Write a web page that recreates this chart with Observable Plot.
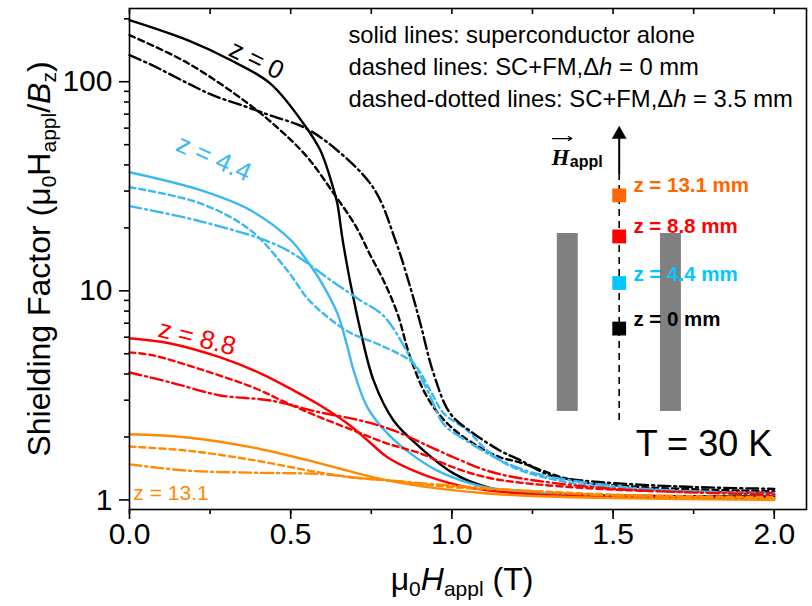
<!DOCTYPE html>
<html><head><meta charset="utf-8">
<script src="https://cdn.jsdelivr.net/npm/d3@7"></script>
<script src="https://cdn.jsdelivr.net/npm/@observablehq/plot@0.6"></script>
<style>
body{margin:0;background:#fff;}
#chart{width:812px;height:606px;}
</style></head><body><div id="chart"></div>
<script>
// ---- data (x: mu0 H_appl in T, y: shielding factor) ----
const z0Solid   = [[0,197],[0.18,158],[0.313,127],[0.437,98],[0.54,63],[0.592,47],[0.632,31],[0.645,26],[0.66,18],[0.675,13.2],[0.69,10],[0.716,6.5],[0.757,3.73],[0.819,2.4],[0.902,1.78],[1.005,1.34],[1.11,1.15],[1.212,1.085],[1.5,1.05],[2.0,1.04]];
const z0Dash    = [[0,167],[0.18,123],[0.366,79],[0.468,58.6],[0.552,43.5],[0.633,29.3],[0.70,20.6],[0.747,14.8],[0.788,11.2],[0.831,7.8],[0.871,4.8],[0.924,3.09],[0.986,2.32],[1.067,1.86],[1.15,1.6],[1.212,1.51],[1.377,1.24],[1.6,1.15],[2.0,1.1]];
const z0DashDot = [[0,134],[0.07,120],[0.18,98.4],[0.26,86],[0.366,75.5],[0.437,69],[0.54,60.6],[0.633,48.6],[0.757,31],[0.825,17.4],[0.871,10.4],[0.902,7.0],[0.943,4.03],[0.995,2.59],[1.067,2.08],[1.15,1.72],[1.212,1.55],[1.305,1.31],[1.40,1.24],[1.7,1.16],[2.0,1.13]];
const z44Solid   = [[0,36.9],[0.22,30.3],[0.375,24.3],[0.5,17.5],[0.561,13.2],[0.592,11.2],[0.645,7.8],[0.676,5.4],[0.695,4.17],[0.738,2.77],[0.8,2.08],[0.871,1.67],[0.955,1.38],[1.057,1.2],[1.16,1.11],[1.212,1.085],[1.5,1.03],[2.0,1.02]];
const z44Dash    = [[0,31.3],[0.22,26.2],[0.375,19.5],[0.49,12.5],[0.552,9.2],[0.614,7.5],[0.685,6.3],[0.778,5.5],[0.88,4.5],[0.933,3.34],[0.974,2.6],[1.048,2.15],[1.11,1.72],[1.19,1.43],[1.377,1.2],[1.6,1.12],[2.0,1.08]];
const z44DashDot = [[0,25.4],[0.22,21.5],[0.47,16.2],[0.633,11.0],[0.716,9.0],[0.788,7.6],[0.871,4.8],[0.93,3.2],[0.975,2.3],[1.05,1.9],[1.15,1.55],[1.25,1.35],[1.4,1.22],[1.6,1.13],[2.0,1.06]];
const z88Solid   = [[0,5.93],[0.127,5.6],[0.282,4.8],[0.406,4.03],[0.509,3.34],[0.592,2.83],[0.676,2.32],[0.738,1.93],[0.8,1.6],[0.881,1.38],[0.964,1.24],[1.067,1.135],[1.212,1.074],[1.5,1.03],[2.0,1.02]];
const z88Dash    = [[0,5.08],[0.074,4.91],[0.229,4.17],[0.384,3.45],[0.49,2.9],[0.592,2.48],[0.695,2.15],[0.8,1.86],[0.902,1.67],[1.005,1.43],[1.11,1.28],[1.212,1.21],[1.5,1.12],[2.0,1.08]];
const z88DashDot = [[0,4.07],[0.127,3.65],[0.282,3.16],[0.437,2.99],[0.592,2.62],[0.716,2.4],[0.819,2.15],[0.924,1.82],[1.005,1.6],[1.11,1.38],[1.212,1.27],[1.5,1.13],[2.0,1.06]];
const z131Solid   = [[0,2.06],[0.18,1.99],[0.384,1.78],[0.552,1.55],[0.676,1.38],[0.8,1.24],[0.955,1.135],[1.11,1.074],[1.212,1.05],[1.5,1.02],[2.0,1.0]];
const z131Dash    = [[0,1.8],[0.18,1.72],[0.384,1.55],[0.592,1.35],[0.695,1.28],[0.8,1.24],[1.005,1.15],[1.212,1.11],[1.5,1.06],[2.0,1.03]];
const z131DashDot = [[0,1.48],[0.18,1.38],[0.384,1.35],[0.592,1.33],[0.695,1.28],[0.8,1.24],[1.005,1.17],[1.212,1.11],[1.5,1.05],[2.0,1.02]];

const zValues = ["0","4.4","8.8","13.1"];
const curveColors = ["#000000","#3bb8f0","#ff0000","#ff8a00"];
const insetColors = ["#000000","#00c8ff","#ff0000","#ff6600"];
const curveLabels = ["z = 0","z = 4.4","z = 8.8","z = 13.1"];
const legendLines = ["solid lines: superconductor alone","dashed lines: SC+FM,Δh = 0 mm","dashed-dotted lines: SC+FM,Δh = 3.5 mm"];
const insetLabels = ["z = 0 mm","z = 4.4 mm","z = 8.8 mm","z = 13.1 mm"];
const xMajor = [0,0.5,1.0,1.5,2.0];
const xMinor = [0,0.25,0.5,0.75,1.0,1.25,1.5,1.75,2.0];
const yMajor = [1,10,100];
const yMinor = [2,3,4,5,6,7,8,9,20,30,40,50,60,70,80,90,200];

// ---- tables built from the arrays ----
const series = [
  {z:"0",style:"solid",pts:z0Solid},{z:"0",style:"dash",pts:z0Dash},{z:"0",style:"dashdot",pts:z0DashDot},
  {z:"4.4",style:"solid",pts:z44Solid},{z:"4.4",style:"dash",pts:z44Dash},{z:"4.4",style:"dashdot",pts:z44DashDot},
  {z:"8.8",style:"solid",pts:z88Solid},{z:"8.8",style:"dash",pts:z88Dash},{z:"8.8",style:"dashdot",pts:z88DashDot},
  {z:"13.1",style:"solid",pts:z131Solid},{z:"13.1",style:"dash",pts:z131Dash},{z:"13.1",style:"dashdot",pts:z131DashDot}
];
const rows = series.flatMap(s => s.pts.map(([x,y]) => ({x, y, z:s.z, style:s.style, key:s.z+"-"+s.style})));
const colorOf = z => curveColors[zValues.indexOf(z)];
const dashes = {solid:null, dash:"6,4", dashdot:"12,4,2,4"};

const yTop = 224, yBot = 0.9;
const font = "Liberation Sans, Arial, Helvetica, sans-serif";

const lineMarks = ["solid","dash","dashdot"].map(st =>
  Plot.line(rows.filter(r => r.style === st), {
    x:"x", y:"y", z:"key", stroke: d => colorOf(d.z), strokeWidth: 2.4,
    strokeDasharray: dashes[st] ?? undefined, curve:"catmull-rom"
  })
);

const curveLabelData = [
  {t:curveLabels[0], x:0.394, y:127, c:curveColors[0], r:26},
  {t:curveLabels[1], x:0.262, y:43, c:curveColors[1], r:24},
  {t:curveLabels[2], x:0.21, y:5.95, c:curveColors[2], r:14},
];
const insetPts = zValues.map((z,i) => ({z, c:insetColors[i], t:insetLabels[i],
  y:[6.6,10.9,18.2,28.6][i], ty:[7.3,12.0,20.4,32.0][i]}));

const chart = Plot.plot({
  width:812, height:606,
  marginLeft:129, marginRight:6, marginTop:8, marginBottom:97,
  style:{fontFamily:font, background:"white", color:"black", overflow:"visible"},
  x:{domain:[0,2.1], label:null},
  y:{type:"log", domain:[yBot,yTop], label:null},
  marks:[
    // inset drawing
    Plot.rect([{x1:1.327,x2:1.392},{x1:1.647,x2:1.712}], {x1:"x1", x2:"x2", y1:2.65, y2:18.8, fill:"#808080"}),
    Plot.ruleX([1.519], {y1:2.40, y2:35.7, stroke:"black", strokeWidth:1.6, strokeDasharray:"7,5"}),
    Plot.ruleX([1.519], {y1:35.7, y2:54, stroke:"black", strokeWidth:2}),
    Plot.dot([1.519], {x:d=>d, y:56, symbol:"triangle", r:5.5, fill:"black", stroke:null}),
    Plot.dot(insetPts, {x:1.519, y:"y", symbol:"square", r:7.8, fill:"c", stroke:null}),
    Plot.text(insetPts, {x:1.563, y:"ty", text:"t", fill:"c", textAnchor:"start", fontWeight:"bold", fontSize:20.5, fontFamily:font}),
    Plot.text(["H"], {x:1.309, y:43.5, text:d=>d, textAnchor:"start", fontSize:23, fontWeight:"bold", fontStyle:"italic", fontFamily:"Liberation Serif, DejaVu Serif, serif"}),
    Plot.text(["appl"], {x:1.366, y:41.5, text:d=>d, textAnchor:"start", fontSize:16, fontWeight:"bold", fontFamily:font}),
    Plot.arrow([0], {x1:1.312, x2:1.372, y1:53.5, y2:53.5, headLength:5, strokeWidth:1.2, stroke:"black"}),
    Plot.text(["T = 30 K"], {x:1.782, y:1.844, text:d=>d, fontSize:36, fontFamily:font}),
    // legend text
    Plot.text(legendLines, {x:0.679, y:(d,i)=>[167,117,82.5][i], text:d=>d, textAnchor:"start", fontSize:23.8, fontFamily:font, fill:"black"}),
    // curves
    ...lineMarks,
    Plot.text(curveLabelData, {x:"x", y:"y", text:"t", fill:"c", rotate:"r", fontSize:26, fontFamily:font}),
    Plot.text([curveLabels[3]], {x:0.012, y:1.075, text:d=>d, fill:curveColors[3], textAnchor:"start", fontSize:21, fontFamily:font}),
    // axes & frame
    Plot.frame({stroke:"black", strokeWidth:1.6}),
    Plot.ruleX(xMinor, {x:d=>d, y1:yTop, y2:yTop*Math.pow(10,-6/209), stroke:"black", strokeWidth:1.6}),
    Plot.axisX({ticks:xMinor, tickSize:5, tickFormat:()=>"", label:null, strokeWidth:1.6}),
    Plot.axisX({ticks:xMajor, tickSize:10, tickPadding:3, tickFormat:d=>d.toFixed(1), label:null, fontSize:30, strokeWidth:1.6, fontFamily:font}),
    Plot.axisY({ticks:yMinor, tickSize:5, tickFormat:()=>"", label:null, strokeWidth:1.6}),
    Plot.axisY({ticks:yMajor, tickSize:10, tickPadding:7, tickFormat:d=>String(d), label:null, fontSize:30, strokeWidth:1.6, fontFamily:font})
  ]
});
document.getElementById("chart").appendChild(chart);

// italic h in legend lines
d3.select(chart).selectAll("text").each(function(){
  const el = d3.select(this);
  const s = el.text();
  if (s.includes("Δh") && this.childElementCount === 0) {
    const parts = s.split("Δh");
    el.text(null);
    el.append("tspan").text(parts[0] + "Δ");
    el.append("tspan").attr("font-style","italic").text("h");
    el.append("tspan").text(parts[1]);
  }
});

// axis titles (with subscripts)
const svg = d3.select(chart);
const yt = svg.append("text").attr("transform","translate(50,259) rotate(-90)")
  .attr("text-anchor","middle").attr("font-size",32).attr("font-family",font).attr("fill","black");
yt.append("tspan").text("Shielding Factor (μ");
yt.append("tspan").attr("font-size",21).attr("dy",6).text("0");
yt.append("tspan").attr("dy",-6).text("H");
yt.append("tspan").attr("font-size",21).attr("dy",6).text("appl");
yt.append("tspan").attr("dy",-6).text("/");
yt.append("tspan").attr("font-style","italic").text("B");
yt.append("tspan").attr("font-size",21).attr("dy",6).text("z");
yt.append("tspan").attr("dy",-6).text(")");

const xt = svg.append("text").attr("x",462).attr("y",590)
  .attr("text-anchor","middle").attr("font-size",32).attr("font-family",font).attr("fill","black");
xt.append("tspan").text("μ");
xt.append("tspan").attr("font-size",21).attr("dy",6).text("0");
xt.append("tspan").attr("dy",-6).attr("font-style","italic").text("H");
xt.append("tspan").attr("font-size",21).attr("dy",6).text("appl");
xt.append("tspan").attr("dy",-6).text(" (T)");
</script></body></html>
